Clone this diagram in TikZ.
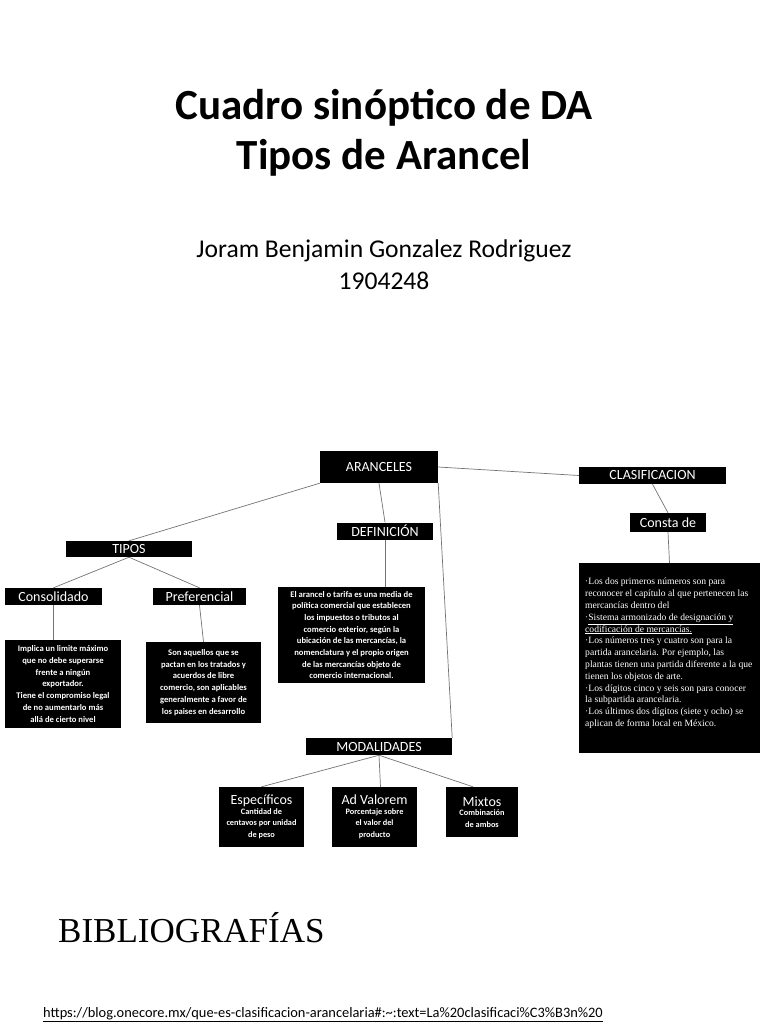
\documentclass[tikz,border=0pt]{standalone}
\usepackage{fontspec}
\setmainfont{Carlito}
\newfontfamily\serifbox{Liberation Serif}
\usetikzlibrary{backgrounds}
\begin{document}
\begin{tikzpicture}[x=1pt,y=-1pt,
  lab/.style={fill=black,text=white,inner sep=0pt,font=\fontsize{14}{15}\selectfont},
  txt/.style={fill=black,text=white,inner sep=0pt,align=center,font=\bfseries\fontsize{8.6}{11.7}\selectfont},
  modbox/.style={fill=black,text=white,inner sep=0pt,align=center,font=\bfseries\fontsize{8.3}{11.5}\selectfont},
  link/.style={draw=black!55,line width=0.7pt}]
\useasboundingbox (0,0) rectangle (768,1024);

% titles
\node[anchor=base,inner sep=0pt,font=\bfseries\fontsize{43}{50}\selectfont] (t1) at (384,120) {Cuadro sinóptico de DA};
\node[anchor=base,inner sep=0pt,font=\bfseries\fontsize{43}{50}\selectfont] (t2) at (384,170) {Tipos de Arancel};
\node[anchor=base,inner sep=0pt,font=\fontsize{25.6}{30}\selectfont] (au) at (384,257) {Joram Benjamin Gonzalez Rodriguez};
\node[anchor=base,inner sep=0pt,font=\fontsize{25.6}{30}\selectfont] (idn) at (384,289) {1904248};

% label boxes
\node[lab,minimum width=118pt,minimum height=32pt] (aran) at (379,467) {ARANCELES};
\node[lab,minimum width=147pt,minimum height=17pt] (clas) at (652.5,475.5) {CLASIFICACION};
\node[lab,minimum width=76pt,minimum height=19pt] (consta) at (668,522.5) {Consta de};
\node[lab,minimum width=96pt,minimum height=17pt] (def) at (385,531) {DEFINICIÓN};
\node[lab,minimum width=126pt,minimum height=16pt] (tipos) at (129,549) {TIPOS};
\node[lab,minimum width=97pt,minimum height=17pt] (cons) at (53.5,596.5) {Consolidado};
\node[lab,minimum width=93pt,minimum height=17pt] (pref) at (199.5,596.5) {Preferencial};
\node[lab,minimum width=146pt,minimum height=17pt] (modal) at (379,746.5) {MODALIDADES};

% text boxes
\node[txt,minimum width=116pt,minimum height=88pt] (consbox) at (63,684)
 {Implica un limite máximo\\que no debe superarse\\frente a ningún\\exportador.\\Tiene el compromiso legal\\de no aumentarlo más\\allá de cierto nivel};
\node[txt,minimum width=115pt,minimum height=81pt] (prefbox) at (203.5,682.5)
 {Son aquellos que se\\pactan en los tratados y\\acuerdos de libre\\comercio, son aplicables\\generalmente a favor de\\los paises en desarrollo};
\node[txt,minimum width=147pt,minimum height=96pt] (defbox) at (351.5,635)
 {El arancel o tarifa es una media de\\política comercial que establecen\\los impuestos o tributos al\\comercio exterior, según la\\ubicación de las mercancías, la\\nomenclatura y el propio origen\\de las mercancías objeto de\\comercio internacional.};
\node[fill=black,inner sep=0pt,minimum width=181pt,minimum height=190pt] (clasbox) at (669.5,658) {};
\node[anchor=north west,inner sep=0pt,text=white,align=left,font=\serifbox\fontsize{9.6}{11.8}\selectfont] (clastext) at (585,578)
 {·Los dos primeros números son para\\reconocer el capítulo al que pertenecen las\\mercancías dentro del\\·\underline{Sistema armonizado de designación y}\\\underline{codificación de mercancías.}\\·Los números tres y cuatro son para la\\partida arancelaria. Por ejemplo, las\\plantas tienen una partida diferente a la que\\tienen los objetos de arte.\\·Los dígitos cinco y seis son para conocer\\la subpartida arancelaria.\\·Los últimos dos dígitos (siete y ocho) se\\aplican de forma local en México.};

\node[modbox,minimum width=85pt,minimum height=60pt] (esp) at (261.5,817)
 {{\mdseries\fontsize{14}{14}\selectfont Específicos}\\[-2pt]Cantidad de\\centavos por unidad\\de peso};
\node[modbox,minimum width=85pt,minimum height=60pt] (adval) at (374.5,817)
 {{\mdseries\fontsize{14}{14}\selectfont Ad Valorem}\\[-2pt]Porcentaje sobre\\el valor del\\producto};
\node[modbox,minimum width=72pt,minimum height=50pt] (mix) at (482,812)
 {{\mdseries\fontsize{14}{14}\selectfont Mixtos}\\[-2pt]Combinación\\de ambos};

% bibliography
\node[anchor=base west,inner sep=0pt,font=\serifbox\fontsize{35}{40}\selectfont] (bib) at (58,942) {BIBLIOGRAFÍAS};
\node[anchor=base west,inner sep=0pt,font=\fontsize{14.4}{16}\selectfont] (url) at (43,1017)
 {\underline{https://blog.onecore.mx/que-es-clasificacion-arancelaria\#:\textasciitilde:text=La\%20clasificaci\%C3\%B3n\%20}};

% connectors
\begin{scope}[on background layer]
\draw[link] (aran.south west) -- (tipos.north);
\draw[link] (tipos.south) -- (cons.north);
\draw[link] (tipos.south) -- (pref.north);
\draw[link] (cons.south) -- (cons.south |- consbox.north);
\draw[link] (pref.south) -- (prefbox.north);
\draw[link] (aran.south) -- (def.north);
\draw[link] (def.south) -- (def.south |- defbox.north);
\draw[link] (aran.south east) -- (modal.north east);
\draw[link] (aran.east) -- (clas.west);
\draw[link] (clas.south) -- (consta.north);
\draw[link] (consta.south) -- (clasbox.north);
\draw[link] (modal.south) -- (esp.north);
\draw[link] (modal.south) -- ([xshift=6pt]adval.north);
\draw[link] (modal.south) -- ([xshift=-9pt]mix.north);
\end{scope}
\end{tikzpicture}
\end{document}
